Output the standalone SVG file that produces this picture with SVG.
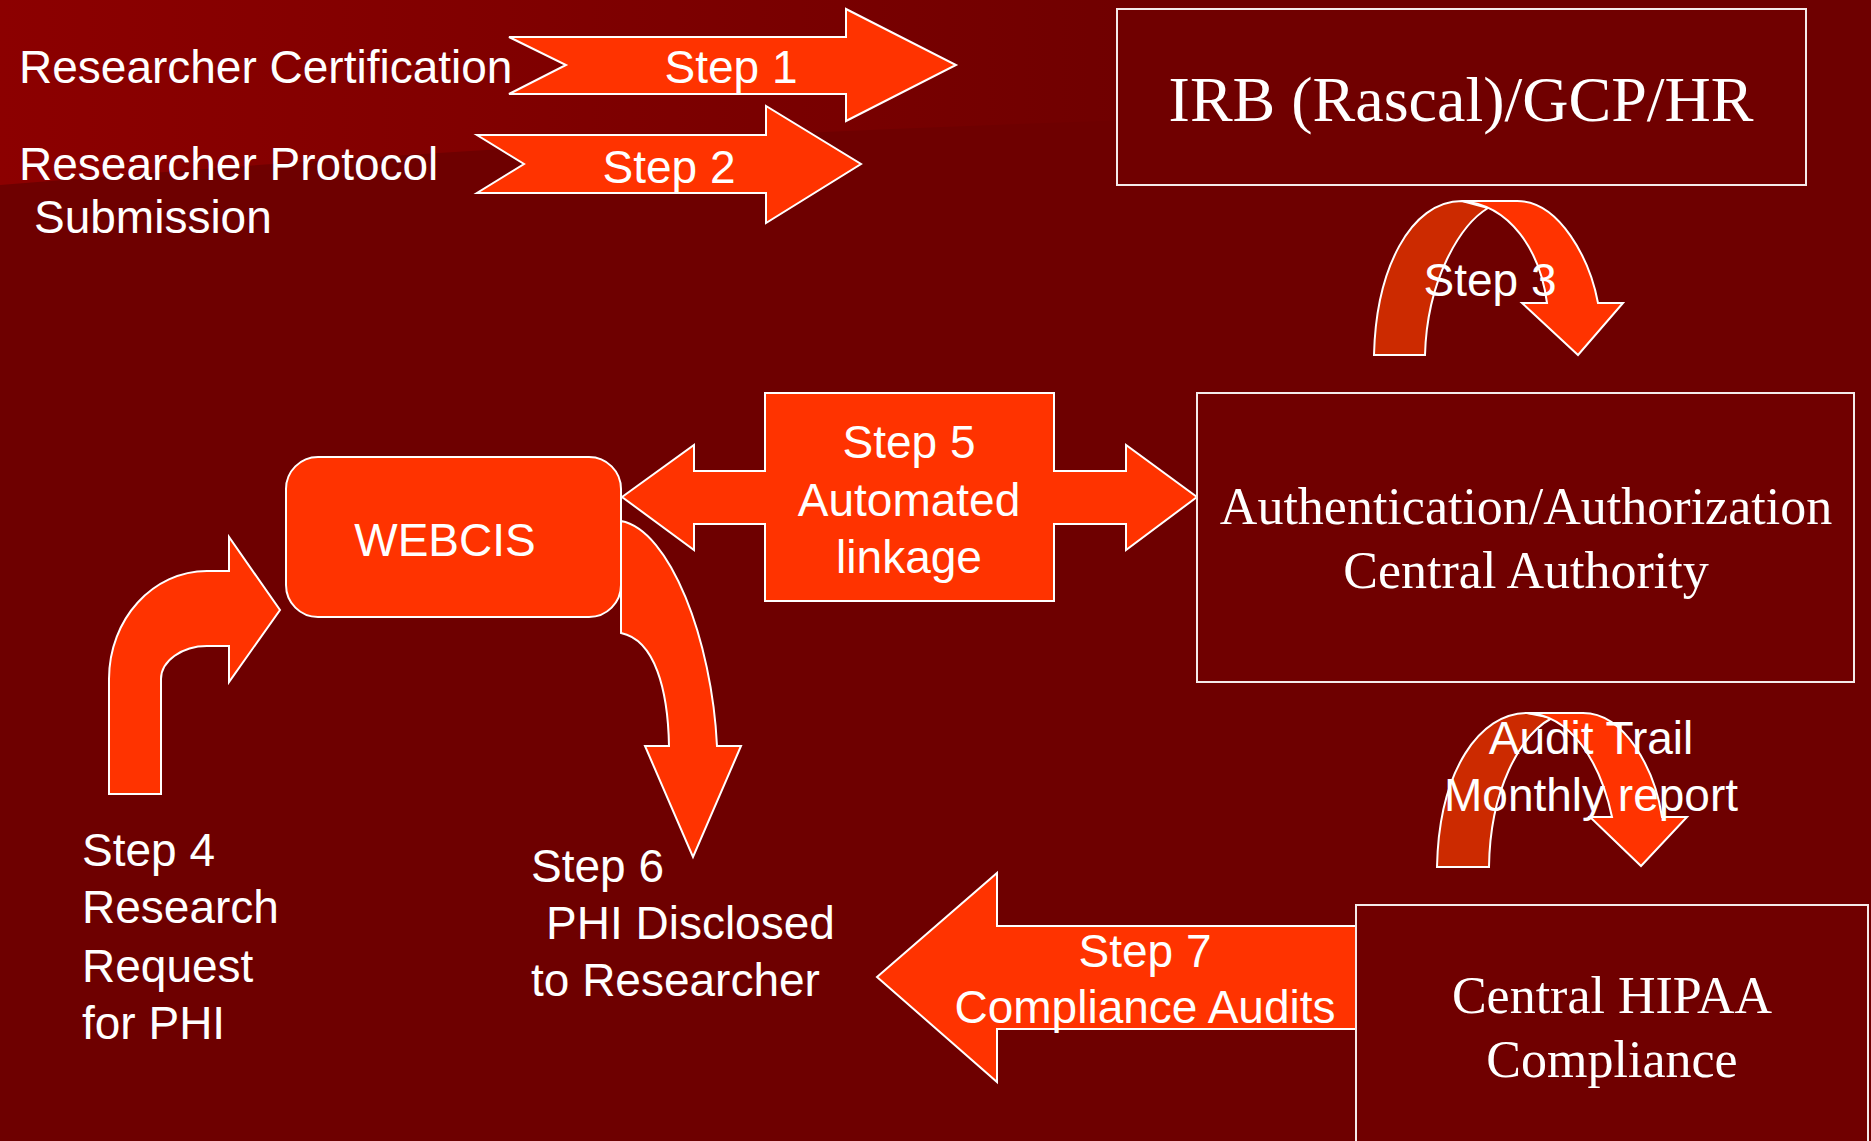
<svg xmlns="http://www.w3.org/2000/svg" width="1871" height="1141" viewBox="0 0 1871 1141">
<defs>
<linearGradient id="bgTop" x1="0" y1="0" x2="1" y2="0">
<stop offset="0" stop-color="#8C0000"/>
<stop offset="0.7" stop-color="#780000"/>
<stop offset="1" stop-color="#6E0000"/>
</linearGradient>
<style>
.box{fill:#700000;stroke:#F4EAEA;stroke-width:2}
.arr{fill:#FF3300;stroke:#FFFFFF;stroke-width:2;stroke-linejoin:miter}
.dark{fill:#CC2A00;stroke:#FFFFFF;stroke-width:2}
.sans{font-family:"Liberation Sans",Arial,sans-serif;font-size:46px;fill:#FFFFFF}
.serif{font-family:"Liberation Serif","Times New Roman",serif;fill:#FFFFFF}
.mid{text-anchor:middle}
</style>
</defs>
<rect x="0" y="0" width="1871" height="1141" fill="#6E0000"/>
<path d="M0,0 H1200 V118 Q600,135 0,185 Z" fill="url(#bgTop)"/>

<g id="connectors">
<path id="step1" class="arr" d="M509,37 L846,37 L846,9 L956,65 L846,121 L846,94 L509,94 L566,65 Z"/>
<path id="step2" class="arr" d="M477,135 L766,135 L766,106 L861,164 L766,223 L766,193 L477,193 L524,164 Z"/>
<g id="step3">
<path class="dark" d="M1374,355 C1376,270 1410,201 1462,201 L1488,208 C1460,225 1427,280 1425,355 Z"/>
<path class="arr" d="M1462,201 L1517,201 C1560,201 1590,260 1598,303 L1623,303 L1578,355 L1522,303 L1547,303 C1540,250 1510,205 1462,201 Z"/>
</g>
<path id="step4" class="arr" d="M109,794 L109,679 C109,619 153,571 207,571 L229,571 L229,537 L280,610 L229,682 L229,646 L207,646 C182,646 161,661 161,679 L161,794 Z"/>
<path id="step5" class="arr" d="M622,497 L694,445 L694,471 L765,471 L765,393 L1054,393 L1054,471 L1126,471 L1126,445 L1197,497 L1126,550 L1126,524 L1054,524 L1054,601 L765,601 L765,524 L694,524 L694,550 Z"/>
<g id="audit">
<path class="dark" d="M1437,867 C1439,770 1480,713 1527,713 L1552,718 C1520,735 1490,790 1489,867 Z"/>
<path class="arr" d="M1527,713 L1583,713 C1625,713 1655,770 1662,817 L1687,817 L1641,866 L1590,817 L1612,817 C1600,760 1570,715 1527,713 Z"/>
</g>
<path id="step7" class="arr" d="M877,977 L997,873 L997,926 L1356,926 L1356,1029 L997,1029 L997,1082 Z"/>
</g>

<g id="irb">
<rect class="box" x="1117" y="9" width="689" height="176"/>
<text class="serif mid" x="1461" y="121" font-size="64">IRB (Rascal)/GCP/HR</text>
</g>
<g id="auth">
<rect class="box" x="1197" y="393" width="657" height="289"/>
<text class="serif mid" x="1526" y="524" font-size="52">Authentication/Authorization</text>
<text class="serif mid" x="1526" y="588" font-size="52">Central Authority</text>
</g>
<g id="hipaa">
<rect class="box" x="1356" y="905" width="512" height="300"/>
<text class="serif mid" x="1612" y="1013" font-size="52">Central HIPAA</text>
<text class="serif mid" x="1612" y="1077" font-size="52">Compliance</text>
</g>
<g id="webcis">
<rect class="arr" x="286" y="457" width="335" height="160" rx="32" ry="32"/>
<text class="sans mid" x="445" y="556">WEBCIS</text>
</g>
<g id="connectors-step6">
<path id="step6" class="arr" d="M621,521 C670,530 712,640 717,746 L741,746 L693,857 L645,746 L669,746 C668,690 655,640 621,633 Z"/>
</g>

<g id="labels">
<text class="sans" x="19" y="83">Researcher Certification</text>
<text class="sans" x="19" y="180">Researcher Protocol</text>
<text class="sans" x="34" y="233">Submission</text>
<text class="sans mid" x="731" y="83">Step 1</text>
<text class="sans mid" x="669" y="183">Step 2</text>
<text class="sans mid" x="1490" y="296">Step 3</text>
<text class="sans mid" x="909" y="458">Step 5</text>
<text class="sans mid" x="909" y="516">Automated</text>
<text class="sans mid" x="909" y="573">linkage</text>
<text class="sans" x="82" y="866">Step 4</text>
<text class="sans" x="82" y="923">Research</text>
<text class="sans" x="82" y="982">Request</text>
<text class="sans" x="82" y="1039">for PHI</text>
<text class="sans" x="531" y="882">Step 6</text>
<text class="sans" x="546" y="939">PHI Disclosed</text>
<text class="sans" x="531" y="996">to Researcher</text>
<text class="sans mid" x="1145" y="967">Step 7</text>
<text class="sans mid" x="1145" y="1023">Compliance Audits</text>
<text class="sans mid" x="1591" y="754">Audit Trail</text>
<text class="sans mid" x="1591" y="811">Monthly report</text>
</g>
</svg>
